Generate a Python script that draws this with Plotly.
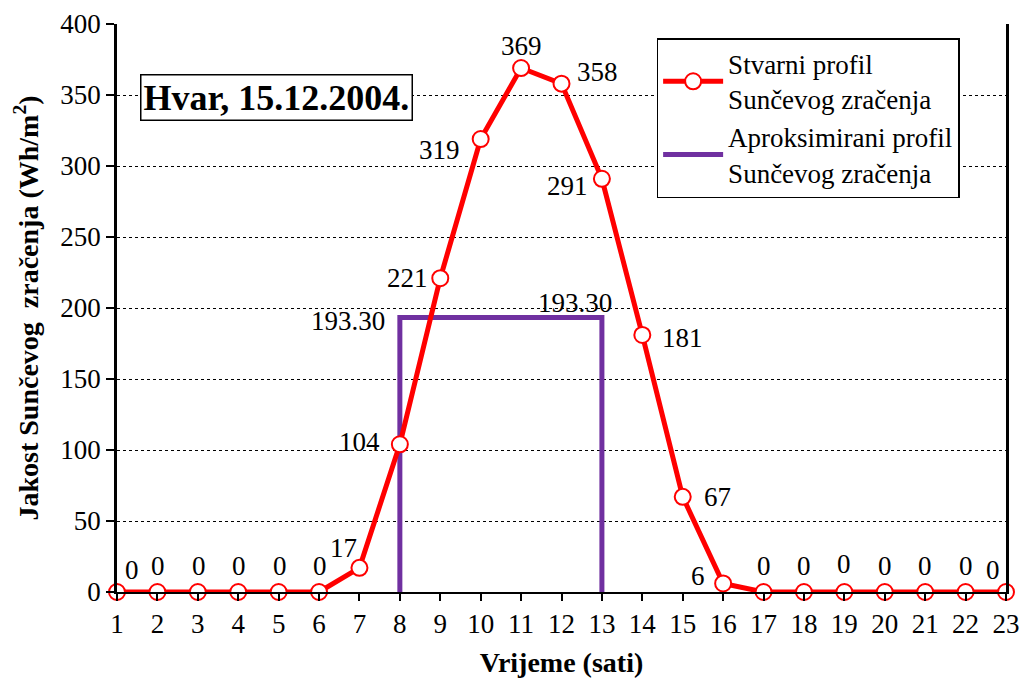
import plotly.graph_objects as go

hours = list(range(1, 24))
radiation = [0, 0, 0, 0, 0, 0, 17, 104, 221, 319, 369, 358, 291, 181, 67, 6, 0, 0, 0, 0, 0, 0, 0]
approx_x = [8, 8, 13, 13]
approx_y = [0, 193.30, 193.30, 0]
approx_labels = ["", "193.30", "193.30", ""]

# label offsets in pixels (style only)
lab_dx = [15, 1, 1, 1, 1, 1, -16, -40, -33, -41, 0, 36, -34, 40, 35, -25, 0, 0, 0, 0, 0, 0, -13]
lab_dy = [22, 26, 26, 26, 26, 26, 20, 2, 0, -11, 22, 12, -7, -3, 0, 7, 26, 26, 28, 26, 26, 26, 22]
approx_dx = [0, -52, -27, 0]
approx_dy = [0, -3, 15, 0]

FONT = "Liberation Serif, Times New Roman, serif"
RED = "#FF0000"
PURPLE = "#7030A0"
FS = 27

fig = go.Figure()
fig.add_trace(go.Scatter(
    x=approx_x, y=approx_y, mode="lines",
    line=dict(color=PURPLE, width=5),
    name="Aproksimirani profil<br>Sunčevog zračenja",
    cliponaxis=False,
))
fig.add_trace(go.Scatter(
    x=hours, y=radiation, mode="lines+markers",
    line=dict(color=RED, width=5),
    marker=dict(symbol="circle", size=16, color="white", line=dict(color=RED, width=2)),
    name="Stvarni profil<br>Sunčevog zračenja",
    cliponaxis=False,
))

annotations = []
for xv, yv, dx, dy in zip(hours, radiation, lab_dx, lab_dy):
    annotations.append(dict(x=xv, y=yv, text=str(yv), showarrow=False,
                            xshift=dx, yshift=dy,
                            font=dict(family=FONT, size=FS, color="black")))
for xv, yv, t, dx, dy in zip(approx_x, approx_y, approx_labels, approx_dx, approx_dy):
    if t:
        annotations.append(dict(x=xv, y=yv, text=t, showarrow=False,
                                xshift=dx, yshift=dy,
                                font=dict(family=FONT, size=FS, color="black")))
annotations.append(dict(
    xref="paper", yref="paper", x=0.026, y=0.870, xanchor="left", yanchor="middle",
    text="<b>Hvar, 15.12.2004.</b>", showarrow=False,
    font=dict(family=FONT, size=36, color="black"),
    bordercolor="black", borderwidth=1.5, borderpad=2, bgcolor="white",
))

fig.update_layout(
    width=1023, height=683,
    margin=dict(l=117, r=17, t=24, b=91),
    paper_bgcolor="white", plot_bgcolor="white",
    font=dict(family=FONT, size=FS, color="black"),
    annotations=annotations,
    legend=dict(
        x=0.607, y=0.975, xanchor="left", yanchor="top",
        bordercolor="black", borderwidth=1.5, bgcolor="white",
        font=dict(family=FONT, size=FS, color="black"),
        traceorder="reversed", itemwidth=60, tracegroupgap=8,
    ),
    xaxis=dict(
        range=[1, 23], tickmode="array", tickvals=hours,
        showgrid=False, zeroline=False, automargin=False,
        showline=True, linecolor="black", linewidth=2,
        ticks="outside", ticklen=7, tickcolor="black", tickwidth=1.5,
        title=dict(text="<b>Vrijeme (sati)</b>", font=dict(family=FONT, size=28), standoff=14),
        tickfont=dict(family=FONT, size=FS),
    ),
    yaxis=dict(
        range=[0, 400], tickmode="array", tickvals=list(range(0, 401, 50)),
        showgrid=True, gridcolor="black", griddash="dot", gridwidth=1,
        zeroline=False, automargin=False,
        showline=True, linecolor="black", linewidth=2.5, mirror=True,
        ticks="outside", ticklen=8, tickcolor="black", tickwidth=1.5,
        title=dict(text="<b>Jakost Sunčevog  zračenja (Wh/m<sup>2</sup>)</b>",
                   font=dict(family=FONT, size=28), standoff=14),
        tickfont=dict(family=FONT, size=FS),
    ),
)

fig.write_html("out.html", config={"displayModeBar": False},
               post_script="document.body.style.margin='0';")
